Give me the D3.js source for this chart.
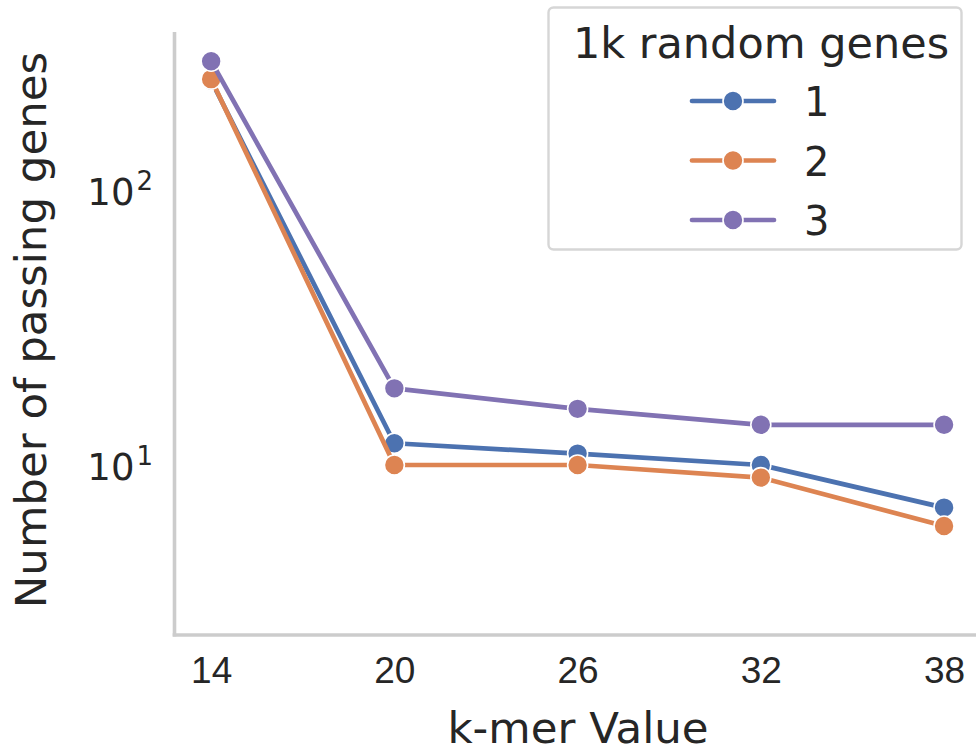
<!DOCTYPE html>
<html>
<head>
<meta charset="utf-8">
<script src="https://cdn.jsdelivr.net/npm/d3@7"></script>
<style>
  body { margin: 0; background: #fff; }
  text { fill: #262626; }
</style>
</head>
<body>
<div id="chart"></div>
<script>
// data
var kmers = [14, 20, 26, 32, 38];
var geneSets = ["1", "2", "3"];
var set1 = [250, 12, 11, 10, 7];
var set2 = [253, 10, 10, 9, 6];
var set3 = [294, 19, 16, 14, 14];
var yTicks = [10, 100];
var colors = ["#4c72b0", "#dd8452", "#8172b3"];

(function() {
  var width = 976;
  var height = 752;

  var svg = d3
    .select("#chart")
    .append("svg")
    .attr("width", width)
    .attr("height", height);

  var x = d3
    .scaleLinear()
    .domain([12.8, 39.2])
    .range([174.5, 980.7]);

  var y = d3
    .scaleLog()
    .domain([2.409, 375.4])
    .range([635, 32]);

  // spines (left + bottom only, seaborn despine)
  svg
    .append("line")
    .attr("x1", 174.5)
    .attr("x2", 174.5)
    .attr("y1", 32)
    .attr("y2", 636.5)
    .attr("stroke", "#cccccc")
    .attr("stroke-width", 3.6);
  svg
    .append("line")
    .attr("x1", 172.7)
    .attr("x2", 981)
    .attr("y1", 635)
    .attr("y2", 635)
    .attr("stroke", "#cccccc")
    .attr("stroke-width", 3.6);

  // x tick labels
  var xAxis = d3.axisBottom(x).tickValues(kmers).tickSize(0).tickPadding(0);
  var gx = svg
    .append("g")
    .attr("transform", "translate(0,683)")
    .call(xAxis);
  gx.select(".domain").remove();
  gx.selectAll("text")
    .attr("dy", 0)
    .attr("y", 0)
    .style("font-family", "'Liberation Sans', Arial, sans-serif")
    .style("font-size", "37px")
    .style("fill", "#262626");

  // y tick labels as 10^n
  var yLabels = svg
    .selectAll(".ytick")
    .data(yTicks)
    .enter()
    .append("text")
    .attr("class", "ytick")
    .attr("x", 153)
    .attr("y", function(d) {
      return y(d) + 15;
    })
    .attr("text-anchor", "end")
    .style("font-family", "'DejaVu Sans', sans-serif")
    .style("font-size", "37px");
  yLabels.append("tspan").text("10");
  yLabels
    .append("tspan")
    .attr("dy", -15)
    .attr("dx", 2)
    .style("font-size", "26px")
    .text(function(d) {
      return Math.round(Math.log10(d));
    });

  // axis titles
  svg
    .append("text")
    .attr("x", 578)
    .attr("y", 743)
    .attr("text-anchor", "middle")
    .style("font-family", "'DejaVu Sans', sans-serif")
    .style("font-size", "43.5px")
    .text("k-mer Value");

  svg
    .append("text")
    .attr("transform", "translate(46,330) rotate(-90)")
    .attr("text-anchor", "middle")
    .style("font-family", "'DejaVu Sans', sans-serif")
    .style("font-size", "43.5px")
    .text("Number of passing genes");

  // lines + markers
  var series = [set1, set2, set3];
  var line = d3
    .line()
    .x(function(d, i) {
      return x(kmers[i]);
    })
    .y(function(d) {
      return y(d);
    });

  series.forEach(function(vals, s) {
    var g = svg.append("g").attr("class", "series");
    g.append("path")
      .datum(vals)
      .attr("d", line)
      .attr("fill", "none")
      .attr("stroke", colors[s])
      .attr("stroke-width", 4.7)
      .attr("stroke-linecap", "round")
      .attr("stroke-linejoin", "round");
    g.selectAll("circle")
      .data(vals)
      .enter()
      .append("circle")
      .attr("cx", function(d, i) {
        return x(kmers[i]);
      })
      .attr("cy", function(d) {
        return y(d);
      })
      .attr("r", 10)
      .attr("fill", colors[s])
      .attr("stroke", "#fff")
      .attr("stroke-width", 1.6);
  });

  // legend
  var legend = svg.append("g").attr("class", "legend");
  legend
    .append("rect")
    .attr("x", 548.5)
    .attr("y", 7.5)
    .attr("width", 413)
    .attr("height", 242)
    .attr("rx", 5)
    .attr("fill", "rgba(255,255,255,0.8)")
    .attr("stroke", "#d6d6d6")
    .attr("stroke-width", 2.4);
  legend
    .append("text")
    .attr("x", 761)
    .attr("y", 58)
    .attr("text-anchor", "middle")
    .style("font-family", "'DejaVu Sans', sans-serif")
    .style("font-size", "43px")
    .text("1k random genes");

  var items = legend
    .selectAll(".item")
    .data(geneSets)
    .enter()
    .append("g")
    .attr("class", "item")
    .attr("transform", function(d, i) {
      return "translate(0," + (101 + i * 59.5) + ")";
    });
  items
    .append("line")
    .attr("x1", 692)
    .attr("x2", 774)
    .attr("stroke", function(d, i) {
      return colors[i];
    })
    .attr("stroke-width", 4.7)
    .attr("stroke-linecap", "round");
  items
    .append("circle")
    .attr("cx", 733)
    .attr("r", 10)
    .attr("fill", function(d, i) {
      return colors[i];
    })
    .attr("stroke", "#fff")
    .attr("stroke-width", 1.6);
  items
    .append("text")
    .attr("x", 804)
    .attr("y", 15)
    .style("font-family", "'DejaVu Sans', sans-serif")
    .style("font-size", "40px")
    .text(function(d) {
      return d;
    });
})();
</script>
</body>
</html>
